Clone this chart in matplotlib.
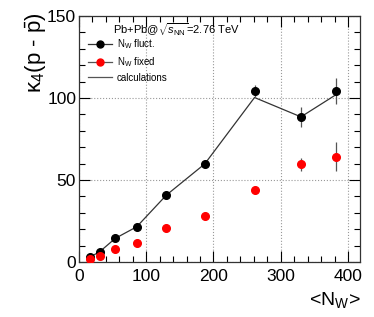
import matplotlib
matplotlib.use("Agg")
import matplotlib.pyplot as plt
from matplotlib.lines import Line2D
from matplotlib.ticker import MultipleLocator

plt.rcParams['font.family'] = ['Liberation Sans', 'DejaVu Sans']
plt.rcParams['mathtext.fontset'] = 'custom'
plt.rcParams['mathtext.rm'] = 'Liberation Sans'
plt.rcParams['mathtext.it'] = 'Liberation Sans:italic'
plt.rcParams['mathtext.bf'] = 'Liberation Sans:bold'

# data
n_w = [16, 31, 54, 86, 130, 187, 261, 330, 382]
k4_fluct = [2.9, 6.3, 14.4, 21.5, 40.8, 59.8, 104.3, 88.5, 104.3]
k4_fluct_err = [0, 0, 0, 0, 0, 0, 3.5, 6.3, 8.2]
k4_fixed = [1.8, 3.7, 7.9, 11.8, 20.9, 28.3, 43.7, 59.5, 64.2]
k4_fixed_err = [0, 0, 0, 0, 0, 0, 0, 4.0, 8.8]
k4_calc = [2.9, 6.3, 14.4, 21.5, 40.8, 59.8, 100.3, 88.5, 102.0]

fig = plt.figure(figsize=(3.74, 3.17), dpi=100)
ax = fig.add_axes([0.211, 0.1735, 0.752, 0.776])

ax.plot(n_w, k4_calc, color='#333333', lw=0.9, zorder=2)
ax.errorbar(n_w, k4_fluct, yerr=k4_fluct_err, fmt='o', color='black',
            ecolor='#555555', elinewidth=0.9, ms=5.5, capsize=0, zorder=3)
ax.errorbar(n_w, k4_fixed, yerr=k4_fixed_err, fmt='o', color='red',
            ecolor='#555555', elinewidth=0.9, ms=5.5, capsize=0, zorder=3)

ax.set_xlim(0, 418)
ax.set_ylim(0, 150)
ax.xaxis.set_major_locator(MultipleLocator(100))
ax.xaxis.set_minor_locator(MultipleLocator(20))
ax.yaxis.set_major_locator(MultipleLocator(50))
ax.yaxis.set_minor_locator(MultipleLocator(10))
ax.tick_params(which='both', direction='in', top=True, right=True, labelsize=12.5, width=0.8)
ax.tick_params(which='major', length=8)
ax.tick_params(axis='y', which='major', pad=2)
ax.tick_params(axis='x', which='major', pad=5)
ax.tick_params(which='minor', length=4)
ax.grid(True, which='major', ls=':', color='#999999', lw=0.8)
for s in ax.spines.values():
    s.set_linewidth(0.9)
    s.set_color('#333333')

ax.set_ylabel(r'κ$_4$(p - $\bar{\mathrm{p}}$)', fontsize=16, loc='top')
ax.yaxis.set_label_coords(-0.15, 1.015, transform=ax.transAxes)
ax.yaxis.label.set_va('center')
ax.yaxis.label.set_ha('right')
ax.set_xlabel(r'<N$_\mathrm{W}$>', fontsize=14, loc='right', labelpad=4)

ax.text(0.12, 0.979, r'Pb+Pb@$\sqrt{s_{\mathrm{NN}}}$=2.76 TeV', transform=ax.transAxes,
        fontsize=8, va='top', ha='left')

handles = [
    Line2D([], [], color='#333333', marker='o', ms=5, lw=0.9, mfc='black', mec='black'),
    Line2D([], [], color='#555555', marker='o', ms=5, lw=0.9, mfc='red', mec='red'),
    Line2D([], [], color='#555555', lw=0.9),
]
labels = [r'N$_\mathrm{W}$ fluct.', r'N$_\mathrm{W}$ fixed', 'calculations']
ax.legend(handles, labels, loc='upper left', bbox_to_anchor=(0.02, 0.928),
          frameon=False, fontsize=7, handlelength=2.4, handletextpad=0.5,
          labelspacing=0.38, borderaxespad=0)

fig.savefig('out.png', dpi=100)
